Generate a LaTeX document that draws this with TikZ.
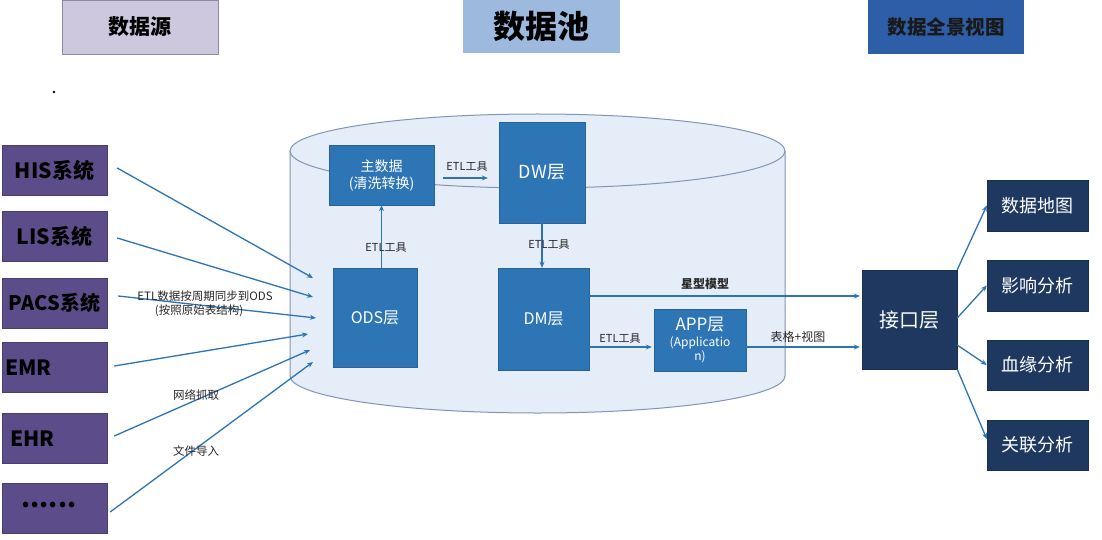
\documentclass[tikz,border=0pt]{standalone}
\usepackage{fontspec}
\setmainfont{Noto Sans CJK SC}
\usetikzlibrary{arrows.meta,calc}
\definecolor{srcpurple}{RGB}{92,77,138}
\definecolor{innerblue}{RGB}{46,117,182}
\definecolor{navy}{RGB}{31,56,96}
\definecolor{linecol}{RGB}{46,116,181}
\definecolor{cylfill}{RGB}{229,237,248}
\definecolor{cylline}{RGB}{128,150,180}
\definecolor{hdrA}{RGB}{205,200,222}
\definecolor{hdrAline}{RGB}{140,138,165}
\definecolor{hdrB}{RGB}{158,185,222}
\definecolor{hdrC}{RGB}{47,94,168}
\definecolor{lbl}{RGB}{40,40,40}
\tikzset{
  srcbox/.style={fill=srcpurple, draw=srcpurple!80!black, line width=0.4pt, minimum width=105pt, minimum height=50pt, inner sep=0pt, font=\fontsize{21}{23}\selectfont\bfseries, text=black},
  inbox/.style={fill=innerblue, draw=innerblue!85!black, line width=0.4pt, inner sep=0pt, text=white, align=center},
  navybox/.style={fill=navy, draw=navy!85!black, line width=0.4pt, inner sep=0pt, text=white, align=center},
  arr/.style={draw=linecol, line width=1.3pt, -{Stealth[length=6pt,width=5pt]}},
  elbl/.style={text=lbl, font=\fontsize{11}{12}\selectfont, inner sep=1pt},
}
\begin{document}
\begin{tikzpicture}[x=1pt,y=-1pt]
\useasboundingbox (0,0) rectangle (1102,540);
\fill[white] (0,0) rectangle (1102,540);

% header boxes
\node[fill=hdrA, draw=hdrAline, line width=0.6pt, minimum width=156pt, minimum height=54pt, font=\fontsize{21}{23}\selectfont\bfseries] (hsrc) at (140,27) {数据源};
\node[fill=hdrB, minimum width=157pt, minimum height=53pt, font=\fontsize{32}{34}\selectfont\bfseries] (hpool) at (541.5,26.5) {数据池};
\node[fill=hdrC, minimum width=156pt, minimum height=54pt, text=black!90, font=\fontsize{19.5}{21}\selectfont\bfseries] (hview) at (946,27) {数据全景视图};
\fill[black] (54,92) circle (1.3);

% cylinder
\fill[cylfill] (290,151) -- (290,376) arc[start angle=180, end angle=0, x radius=247.5, y radius=37] -- (785,151) -- cycle;
\draw[cylline, line width=1pt] (290,151) -- (290,376) arc[start angle=180, end angle=0, x radius=247.5, y radius=37] -- (785,151);
\draw[cylline, line width=1pt, fill=cylfill] (537.5,151) ellipse[x radius=247.5, y radius=37];

% source boxes
\node[srcbox] (his) at (54.5,170) {HIS系统};
\node[srcbox] (lis) at (54.5,236.5) {LIS系统};
\node[srcbox, font=\fontsize{20}{22}\selectfont\bfseries] (pacs) at (54.5,303) {PACS系统};
\node[srcbox] (emr) at (54.5,367.5) {};
\node[anchor=west, font=\fontsize{21}{23}\selectfont\bfseries] (emrt) at (emr.west) {EMR};
\node[srcbox] (ehr) at (54.5,438.5) {};
\node[anchor=west, font=\fontsize{21}{23}\selectfont\bfseries] (ehrt) at ([xshift=5pt]ehr.west) {EHR};
\node[srcbox] (dots) at (54.5,508) {};
\node[font=\fontsize{26}{26}\selectfont\bfseries] (dotst) at (49,505) {......};

% inner boxes
\node[inbox, minimum width=105pt, minimum height=60pt, font=\fontsize{14}{17}\selectfont] (zsj) at (381.5,175) {主数据\\(清洗转换)};
\node[inbox, minimum width=86pt, minimum height=101pt, font=\fontsize{18}{20}\selectfont] (dw) at (542,172.5) {DW层};
\node[inbox, minimum width=84pt, minimum height=99pt, font=\fontsize{16}{18}\selectfont] (ods) at (375,317.5) {ODS层};
\node[inbox, minimum width=91pt, minimum height=102pt, font=\fontsize{16}{18}\selectfont] (dm) at (543.5,319) {DM层};
\node[inbox, minimum width=92pt, minimum height=62pt, font=\fontsize{17}{17}\selectfont] (app) at (700,340) {APP层\\[-1pt]{\fontsize{12}{13}\selectfont (Applicatio}\\[-3pt]{\fontsize{12}{13}\selectfont n)}};

% interface and views
\node[navybox, minimum width=95pt, minimum height=99pt, font=\fontsize{20}{22}\selectfont] (jk) at (909.5,319.5) {接口层};
\node[navybox, minimum width=101pt, minimum height=51pt, font=\fontsize{18}{20}\selectfont] (map) at (1037.5,205.5) {数据地图};
\node[navybox, minimum width=101pt, minimum height=51pt, font=\fontsize{18}{20}\selectfont] (inf) at (1037.5,285.5) {影响分析};
\node[navybox, minimum width=101pt, minimum height=50pt, font=\fontsize{18}{20}\selectfont] (lin) at (1037.5,365) {血缘分析};
\node[navybox, minimum width=101pt, minimum height=50pt, font=\fontsize{18}{20}\selectfont] (rel) at (1037.5,445) {关联分析};

% source arrows end points
\coordinate (e1) at (313,278);
\coordinate (e2) at (313,297);
\coordinate (e3) at (316,318);
\coordinate (e4) at (308,334);
\coordinate (e5) at (310,350);
\coordinate (e6) at (313,362);
\draw[arr] ($(his.east)+(10,-2)$) -- (e1);
\draw[arr] ($(lis.east)+(10,1.5)$) -- (e2);
\draw[arr] ($(pacs.east)+(11,-7)$) -- (e3);
\draw[arr] ($(emr.east)+(7,-1.5)$) -- (e4);
\draw[arr] ($(ehr.east)+(7,-2.5)$) -- (e5);
\draw[arr] ($(dots.east)+(3,4)$) -- (e6);

% left labels
\node[elbl, font=\fontsize{11.5}{12}\selectfont] (l1) at (205,296) {ETL数据按周期同步到ODS};
\node[elbl, font=\fontsize{11.5}{12}\selectfont] (l2) at (199,311) {(按照原始表结构)};
\node[elbl, font=\fontsize{11.5}{12}\selectfont] (l3) at (196,395) {网络抓取};
\node[elbl, font=\fontsize{11.5}{12}\selectfont] (l4) at (196,451) {文件导入};

% inner arrows
\draw[arr] (ods.north -| zsj.south) -- (zsj.south);
\node[elbl] at (386,248) {ETL工具};
\draw[arr, shorten <=9pt, shorten >=11pt] (zsj.east |- 0,178) -- (dw.west |- 0,178);
\node[elbl] at (467,167) {ETL工具};
\draw[arr] (dw.south) -- (dw.south |- dm.north);
\node[elbl] at (549,245) {ETL工具};

\coordinate (a1) at ($(dm.east)+(0,-23)$);
\draw[arr, shorten >=2pt] (a1) -- (a1 -| jk.west);
\node[elbl, font=\fontsize{12}{13}\selectfont\bfseries] at (705,284) {星型模型};
\coordinate (a2) at ($(dm.east)+(0,28)$);
\draw[arr, shorten >=2pt] (a2) -- (a2 -| app.west);
\node[elbl] at (620,339) {ETL工具};
\coordinate (a3) at (app.east |- a2);
\draw[arr, shorten >=2pt] (a3) -- (a3 -| jk.west);
\node[elbl, font=\fontsize{12}{13}\selectfont] at (798,337) {表格+视图};

% right arrows
\draw[arr] (jk.north east) -- (map.west);
\draw[arr] ($(jk.east)+(0,-1.5)$) -- (inf.west);
\draw[arr] ($(jk.east)+(0,25.5)$) -- (lin.west);
\draw[arr] (jk.south east) -- ($(rel.west)+(0,-6)$);
\end{tikzpicture}
\end{document}
